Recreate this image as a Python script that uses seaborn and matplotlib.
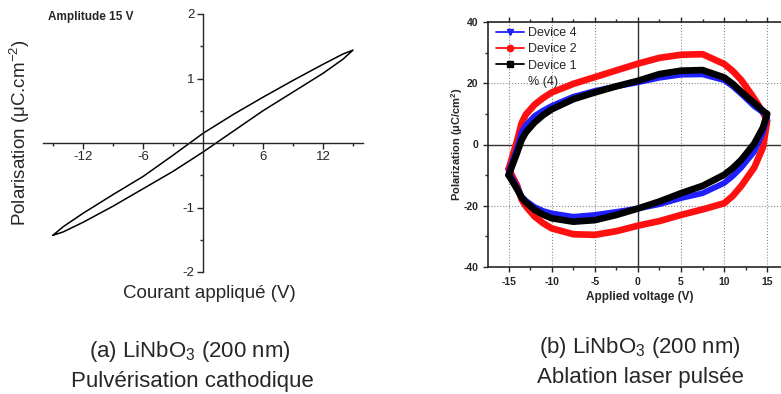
import numpy as np
import pandas as pd
import seaborn as sns
import matplotlib.pyplot as plt
from matplotlib.lines import Line2D
from matplotlib.ticker import FixedLocator, MultipleLocator

# ---- (a) LiNbO3 sputtered, amplitude 15 V ----
v_a = [-15, -14, -12, -9, -6, -3, 0, 3, 6, 9, 12, 14, 15]
p_a_up = [-1.43, -1.30, -1.09, -0.80, -0.52, -0.19, 0.15, 0.44, 0.71, 0.97, 1.22, 1.38, 1.44]
p_a_down = [-1.43, -1.38, -1.23, -0.98, -0.71, -0.44, -0.14, 0.18, 0.50, 0.79, 1.08, 1.30, 1.44]

# ---- (b) LiNbO3 pulsed laser deposition ----
v_b = [-15, -14, -13.5, -13, -12, -11, -10, -7.5, -5, -2.5, 0, 2.5, 5, 7.5, 10, 11, 12, 13.5, 14.5, 15]
dev4_up = [-9, -1, 4, 6.3, 9.3, 11.1, 12.6, 15.6, 17.5, 19, 20.3, 21.8, 22.8, 22.9, 21, 19, 16.5, 12.5, 10.5, 9]
dev4_down = [-9, -14, -17, -18.4, -20.4, -21.7, -22.5, -23.6, -23, -22, -20.9, -19.5, -17.5, -15.9, -12.6, -10.3, -7.5, -2.3, 4, 9]
dev2_up = [-8, 1.5, 7, 9.8, 13, 15.2, 17, 19.8, 22, 24.2, 26.4, 28.3, 29.3, 29.5, 26.3, 24, 21, 15, 10.5, 7.7]
dev2_down = [-8, -13.5, -18, -20.2, -23.5, -25.7, -27.4, -29.3, -29.5, -28.3, -26.5, -25, -23, -21.2, -19.2, -16.8, -13.5, -7.5, -1, 7.7]
dev1_up = [-10, -2.5, 1.5, 4, 7.2, 9.6, 11.5, 14.8, 17, 19, 20.8, 23, 24.1, 24.3, 21.9, 19.8, 17.2, 13.5, 11, 10]
dev1_down = [-10, -14.7, -17.3, -18.9, -21.3, -22.9, -24.1, -25.2, -24.7, -23, -20.9, -18.6, -15.9, -13.5, -9.9, -7.7, -5, 0.3, 5.5, 10]

devices = ["Device 4", "Device 2", "Device 1"]
dev_colors = ["#1f1fff", "#ff1010", "#000000"]
dev_markers = ["v", "o", "s"]


def loop(v, down, up):
    # lower branch going up in voltage, upper branch coming back
    return pd.DataFrame({"V": list(v) + list(v)[::-1],
                         "P": list(down) + list(up)[::-1]})


sns.set_style("ticks")
plt.rcParams["font.family"] = ["Liberation Sans", "DejaVu Sans"]
plt.rcParams["mathtext.default"] = "regular"
plt.rcParams["axes.unicode_minus"] = False

fig = plt.figure(figsize=(7.81, 3.94), dpi=100)

# ---------------- left panel ----------------
ax1 = fig.add_axes([43 / 781, 122 / 394, 320 / 781, 258 / 394])
sns.lineplot(data=loop(v_a, p_a_down, p_a_up), x="V", y="P", sort=False,
             estimator=None, color="black", lw=1.1, ax=ax1,
             solid_joinstyle="round")
ax1.set_xlim(-16, 16)
ax1.set_ylim(-2, 2)
for s in ["top", "right"]:
    ax1.spines[s].set_visible(False)
for s in ["left", "bottom"]:
    ax1.spines[s].set_position(("data", 0))
    ax1.spines[s].set_linewidth(1.0)
ax1.xaxis.set_major_locator(FixedLocator([-12, -6, 6, 12]))
ax1.xaxis.set_minor_locator(FixedLocator([-15, -9, -3, 3, 9, 15]))
ax1.yaxis.set_major_locator(FixedLocator([-2, -1, 1, 2]))
ax1.yaxis.set_minor_locator(FixedLocator([-1.5, -0.5, 0.5, 1.5]))
ax1.tick_params(which="major", direction="out", length=4, width=1, labelsize=9.5, pad=2)
ax1.tick_params(which="minor", direction="out", length=2.5, width=1)
ax1.set_xlabel("Courant appliqué (V)", fontsize=13.5)
ax1.set_ylabel("Polarisation (μC.cm$^{-2}$)", fontsize=13.5)
ax1.xaxis.set_label_coords(0.52, -0.05)
ax1.yaxis.set_label_coords(-0.035, 0.54)
fig.text(48 / 781, 1 - 17 / 394, "Amplitude 15 V", fontsize=8.5,
         fontweight="bold", va="center", ha="left")

# ---------------- right panel ----------------
ax2 = fig.add_axes([488 / 781, 127 / 394, 293 / 781, 245 / 394])
ax2.set_xlim(-17.4, 16.6)
ax2.set_ylim(-40, 40)
ax2.grid(True, which="major", linestyle=":", color="#888888", lw=0.8)
ax2.axhline(0, color="#333333", lw=1.0, zorder=1)
ax2.axvline(0, color="#333333", lw=1.0, zorder=1)

loops = {"Device 2": (dev2_down, dev2_up, 4.8),
         "Device 4": (dev4_down, dev4_up, 4.2),
         "Device 1": (dev1_down, dev1_up, 4.8)}
for name in ["Device 2", "Device 4", "Device 1"]:
    down, up, lw = loops[name]
    c = dev_colors[devices.index(name)]
    sns.lineplot(data=loop(v_b, down, up), x="V", y="P", sort=False,
                 estimator=None, color=c, lw=lw, ax=ax2, zorder=3,
                 solid_joinstyle="round", solid_capstyle="round")

ax2.spines["right"].set_visible(False)
for s in ["left", "bottom", "top"]:
    ax2.spines[s].set_linewidth(1.2)
ax2.xaxis.set_major_locator(MultipleLocator(5))
ax2.xaxis.set_minor_locator(MultipleLocator(2.5))
ax2.yaxis.set_major_locator(MultipleLocator(20))
ax2.yaxis.set_minor_locator(MultipleLocator(10))
ax2.tick_params(which="both", direction="out", width=1)
ax2.tick_params(axis="x", which="both", top=True)
ax2.tick_params(which="major", length=3.5, labelsize=7.5)
ax2.tick_params(which="minor", length=2)
for lab in ax2.get_xticklabels() + ax2.get_yticklabels():
    lab.set_fontweight("bold")
ax2.set_xlabel("Applied voltage (V)", fontsize=8.5, fontweight="bold")
ax2.set_ylabel("Polarization (μC/cm$^2$)", fontsize=8, fontweight="bold")
ax2.xaxis.set_label_coords(0.519, -0.098)
ax2.yaxis.set_label_coords(-0.078, 0.5)

handles = [Line2D([], [], color=c, marker=m, markersize=4.5, lw=1.3)
           for c, m in zip(dev_colors, dev_markers)]
handles.append(Line2D([], [], linestyle="none"))
ax2.legend(handles, devices + ["% (4)"], loc="upper left", frameon=False,
           fontsize=9, handlelength=2.2, handletextpad=0.3, labelspacing=0.35,
           borderaxespad=0.0, borderpad=0.2, bbox_to_anchor=(0.02, 0.99))

# ---------------- captions ----------------
fig.text(190 / 781, 1 - 352 / 394, "(a) LiNbO$_3$ (200 nm)", fontsize=16,
         ha="center", va="center")
fig.text(192 / 781, 1 - 381 / 394, "Pulvérisation cathodique", fontsize=16,
         ha="center", va="center")
fig.text(640 / 781, 1 - 348 / 394, "(b) LiNbO$_3$ (200 nm)", fontsize=16,
         ha="center", va="center")
fig.text(640 / 781, 1 - 377 / 394, "Ablation laser pulsée", fontsize=16,
         ha="center", va="center")

fig.savefig("out.png", dpi=100)
